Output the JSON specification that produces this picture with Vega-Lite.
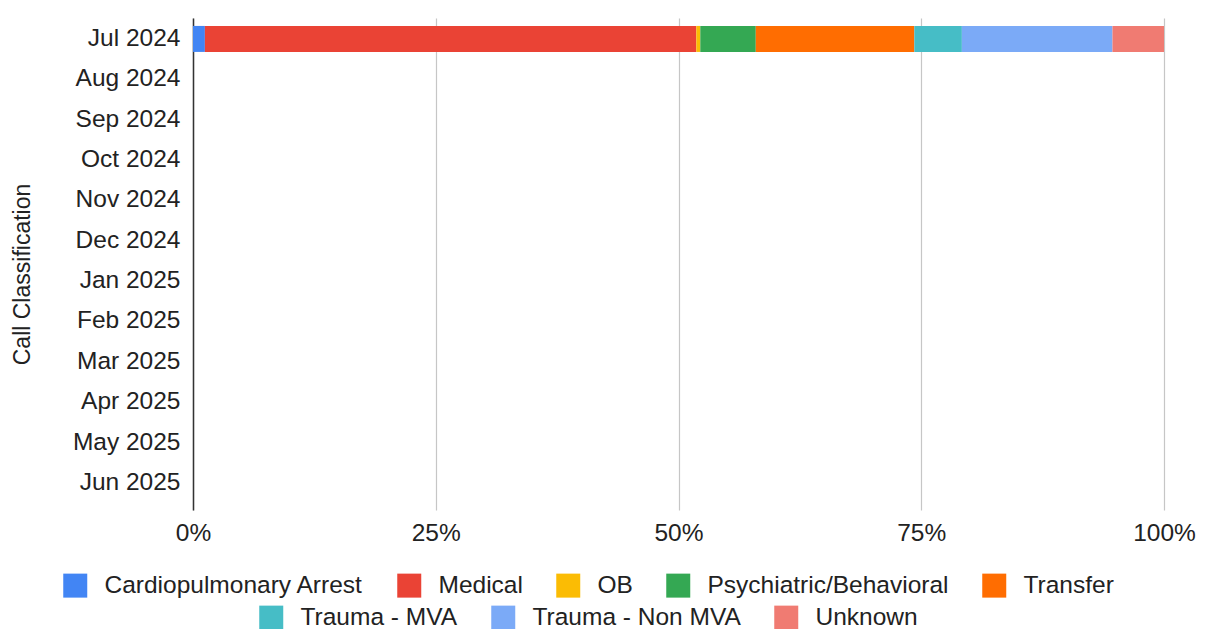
{
  "$schema": "https://vega.github.io/schema/vega-lite/v6.json",
  "width": 971,
  "height": 492,
  "autosize": "none",
  "padding": {"left": 193, "top": 18, "right": 45, "bottom": 119},
  "background": "white",
  "config": {
    "font": "Liberation Sans",
    "view": {"stroke": null},
    "legend": {
      "orient": "none",
      "direction": "horizontal",
      "labelFontSize": 24.5,
      "labelColor": "#222222",
      "labelFont": "Liberation Sans",
      "symbolType": "square",
      "symbolSize": 576,
      "symbolStrokeWidth": 0,
      "symbolOpacity": 1,
      "labelOffset": 17,
      "columnPadding": 33,
      "labelLimit": 400,
      "title": null
    }
  },
  "data": {
    "values": [
      {"month": "Jul 2024", "category": "Cardiopulmonary Arrest", "count": 3},
      {"month": "Jul 2024", "category": "Medical", "count": 124},
      {"month": "Jul 2024", "category": "OB", "count": 1},
      {"month": "Jul 2024", "category": "Psychiatric/Behavioral", "count": 14},
      {"month": "Jul 2024", "category": "Transfer", "count": 40},
      {"month": "Jul 2024", "category": "Trauma - MVA", "count": 12},
      {"month": "Jul 2024", "category": "Trauma - Non MVA", "count": 38},
      {"month": "Jul 2024", "category": "Unknown", "count": 13}
    ]
  },
  "transform": [
    {"stack": "count", "groupby": ["month"], "offset": "normalize", "sort": [{"field": "category", "order": "ascending"}], "as": ["x0", "x1"]}
  ],
  "encoding": {
    "y": {
      "field": "month",
      "type": "nominal",
      "scale": {
        "domain": ["Jul 2024", "Aug 2024", "Sep 2024", "Oct 2024", "Nov 2024", "Dec 2024", "Jan 2025", "Feb 2025", "Mar 2025", "Apr 2025", "May 2025", "Jun 2025"],
        "paddingInner": 0.356,
        "paddingOuter": 0.273,
        "align": 0.36
      },
      "axis": {
        "title": "Call Classification",
        "titleFontSize": 23,
        "titleFontWeight": "normal",
        "titleColor": "#222222",
        "titlePadding": 38,
        "titleY": 256,
        "labelFontSize": 24.5,
        "labelColor": "#222222",
        "labelPadding": 13,
        "ticks": false,
        "domainColor": "#333333",
        "domainWidth": 1.5,
        "grid": false
      }
    },
    "x": {
      "field": "x0",
      "type": "quantitative",
      "scale": {"domain": [0, 1], "nice": false},
      "axis": {
        "title": null,
        "values": [0, 0.25, 0.5, 0.75, 1],
        "format": ".0%",
        "labelFontSize": 24.5,
        "labelColor": "#222222",
        "labelPadding": 11,
        "labelFlush": false,
        "labelOverlap": false,
        "ticks": false,
        "domain": false,
        "grid": true,
        "gridColor": "#c6c6c6",
        "gridWidth": 1.2
      }
    },
    "x2": {"field": "x1"}
  },
  "layer": [
    {
      "transform": [{"filter": {"field": "category", "oneOf": ["Cardiopulmonary Arrest", "Medical", "OB", "Psychiatric/Behavioral", "Transfer"]}}],
      "mark": {"type": "bar"},
      "encoding": {
        "color": {
          "field": "category",
          "type": "nominal",
          "scale": {
            "domain": ["Cardiopulmonary Arrest", "Medical", "OB", "Psychiatric/Behavioral", "Transfer"],
            "range": ["#4285F4", "#EA4335", "#FBBC04", "#34A853", "#FF6D01"]
          },
          "legend": {"orient": "none", "legendX": -130, "legendY": 555, "direction": "horizontal", "columns": 5}
        }
      }
    },
    {
      "transform": [{"filter": {"field": "category", "oneOf": ["Trauma - MVA", "Trauma - Non MVA", "Unknown"]}}],
      "mark": {"type": "bar"},
      "encoding": {
        "color": {
          "field": "category",
          "type": "nominal",
          "scale": {
            "domain": ["Trauma - MVA", "Trauma - Non MVA", "Unknown"],
            "range": ["#46BDC6", "#7BAAF7", "#F07B72"]
          },
          "legend": {"orient": "none", "legendX": 66, "legendY": 587, "direction": "horizontal", "columns": 3}
        }
      }
    }
  ],
  "resolve": {"scale": {"color": "independent"}, "legend": {"color": "independent"}}
}
